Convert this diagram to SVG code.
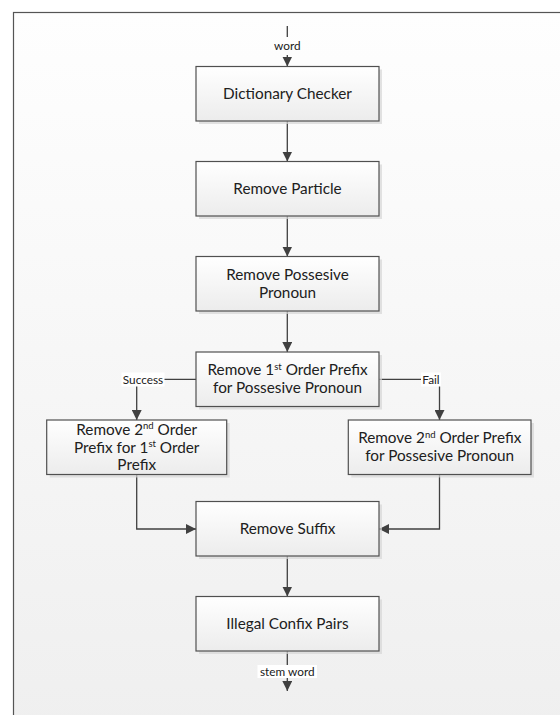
<svg xmlns="http://www.w3.org/2000/svg" width="560" height="715" viewBox="0 0 560 715">
<defs>
<linearGradient id="bg" x1="0" y1="0" x2="0" y2="1">
<stop offset="0" stop-color="#fefefe"/>
<stop offset="1" stop-color="#efefef"/>
</linearGradient>
<linearGradient id="boxg" x1="0" y1="0" x2="0" y2="1">
<stop offset="0" stop-color="#ffffff"/>
<stop offset="1" stop-color="#ececec"/>
</linearGradient>
<marker id="arr" viewBox="0 0 10 10" refX="10" refY="5" markerWidth="10" markerHeight="10" markerUnits="userSpaceOnUse" orient="auto">
<path d="M0,0 L10,5 L0,10 z" fill="#404040"/>
</marker>
<style>
.box{fill:url(#boxg);stroke:#505050;stroke-width:1.2}
.sh{fill:#d6d6d6;opacity:0.7}
.t{font-family:Lato,"Open Sans",sans-serif;font-size:15.3px;fill:#202020;text-anchor:middle}
.sup{font-size:9.5px}
.c{fill:none;stroke:#404040;stroke-width:1.3}
.lb{font-family:Lato,"Open Sans",sans-serif;font-size:11.8px;fill:#202020;text-anchor:middle}
.lbg{fill:#ffffff}
</style>
</defs>
<rect x="0" y="0" width="560" height="715" fill="#ffffff"/>
<rect x="13.5" y="12.5" width="560" height="720" fill="url(#bg)" stroke="#555555" stroke-width="1.2"/>

<g id="connectors">
<line class="c" x1="287.3" y1="26" x2="287.3" y2="37"/>
<line class="c" x1="287.3" y1="55" x2="287.3" y2="66.5" marker-end="url(#arr)"/>
<line class="c" x1="287.3" y1="121" x2="287.3" y2="161.5" marker-end="url(#arr)"/>
<line class="c" x1="287.3" y1="216" x2="287.3" y2="256.5" marker-end="url(#arr)"/>
<line class="c" x1="287.3" y1="311" x2="287.3" y2="352" marker-end="url(#arr)"/>
<polyline class="c" points="196,379.3 136.7,379.3 136.7,420" marker-end="url(#arr)"/>
<polyline class="c" points="379,379.3 439.5,379.3 439.5,420" marker-end="url(#arr)"/>
<polyline class="c" points="136.7,474.5 136.7,529 196,529" marker-end="url(#arr)"/>
<polyline class="c" points="439.5,474.5 439.5,529 379,529" marker-end="url(#arr)"/>
<line class="c" x1="287.3" y1="556" x2="287.3" y2="596.5" marker-end="url(#arr)"/>
<line class="c" x1="287.3" y1="651" x2="287.3" y2="691" marker-end="url(#arr)"/>
<text class="lb" x="287.3" y="50.3">word</text>
<rect class="lbg" x="121.5" y="372.5" width="43" height="14"/>
<text class="lb" x="143" y="383.5">Success</text>
<rect class="lbg" x="421" y="372.5" width="20" height="14"/>
<text class="lb" x="431" y="383.5">Fail</text>
<rect class="lbg" x="257.5" y="665" width="59.5" height="13"/>
<text class="lb" x="287.3" y="675.5">stem word</text>
</g>

<g id="dictionary-checker">
<rect class="sh" x="199" y="69.5" width="183" height="54.5"/>
<rect class="box" x="196" y="66.5" width="183" height="54.5"/>
<text class="t" x="287.5" y="99">Dictionary Checker</text>
</g>
<g id="remove-particle">
<rect class="sh" x="199" y="164.5" width="183" height="54.5"/>
<rect class="box" x="196" y="161.5" width="183" height="54.5"/>
<text class="t" x="287.5" y="194">Remove Particle</text>
</g>
<g id="remove-possesive-pronoun">
<rect class="sh" x="199" y="259.5" width="183" height="54.5"/>
<rect class="box" x="196" y="256.5" width="183" height="54.5"/>
<text class="t" x="287.5" y="280.3">Remove Possesive</text>
<text class="t" x="287.5" y="298.3">Pronoun</text>
</g>
<g id="remove-1st-order-prefix">
<rect class="sh" x="199" y="355" width="183" height="54.5"/>
<rect class="box" x="196" y="352" width="183" height="54.5"/>
<text class="t" x="287.5" y="375.3">Remove 1<tspan class="sup" dy="-5.5">st</tspan><tspan dy="5.5"> Order Prefix</tspan></text>
<text class="t" x="287.5" y="393.3">for Possesive Pronoun</text>
</g>
<g id="remove-2nd-order-prefix-1st">
<rect class="sh" x="49.7" y="423" width="180" height="54.5"/>
<rect class="box" x="46.7" y="420" width="180" height="54.5"/>
<text class="t" x="136.7" y="434.6">Remove 2<tspan class="sup" dy="-5.5">nd</tspan><tspan dy="5.5"> Order</tspan></text>
<text class="t" x="136.7" y="452.6">Prefix for 1<tspan class="sup" dy="-5.5">st</tspan><tspan dy="5.5"> Order</tspan></text>
<text class="t" x="136.7" y="470.3">Prefix</text>
</g>
<g id="remove-2nd-order-prefix-possesive">
<rect class="sh" x="351.3" y="423" width="182.7" height="54.5"/>
<rect class="box" x="348.3" y="420" width="182.7" height="54.5"/>
<text class="t" x="439.7" y="443.3">Remove 2<tspan class="sup" dy="-5.5">nd</tspan><tspan dy="5.5"> Order Prefix</tspan></text>
<text class="t" x="439.7" y="461.3">for Possesive Pronoun</text>
</g>
<g id="remove-suffix">
<rect class="sh" x="199" y="504.5" width="183" height="54.5"/>
<rect class="box" x="196" y="501.5" width="183" height="54.5"/>
<text class="t" x="287.5" y="534">Remove Suffix</text>
</g>
<g id="illegal-confix-pairs">
<rect class="sh" x="199" y="599.5" width="183" height="54.5"/>
<rect class="box" x="196" y="596.5" width="183" height="54.5"/>
<text class="t" x="287.5" y="629">Illegal Confix Pairs</text>
</g>
</svg>
